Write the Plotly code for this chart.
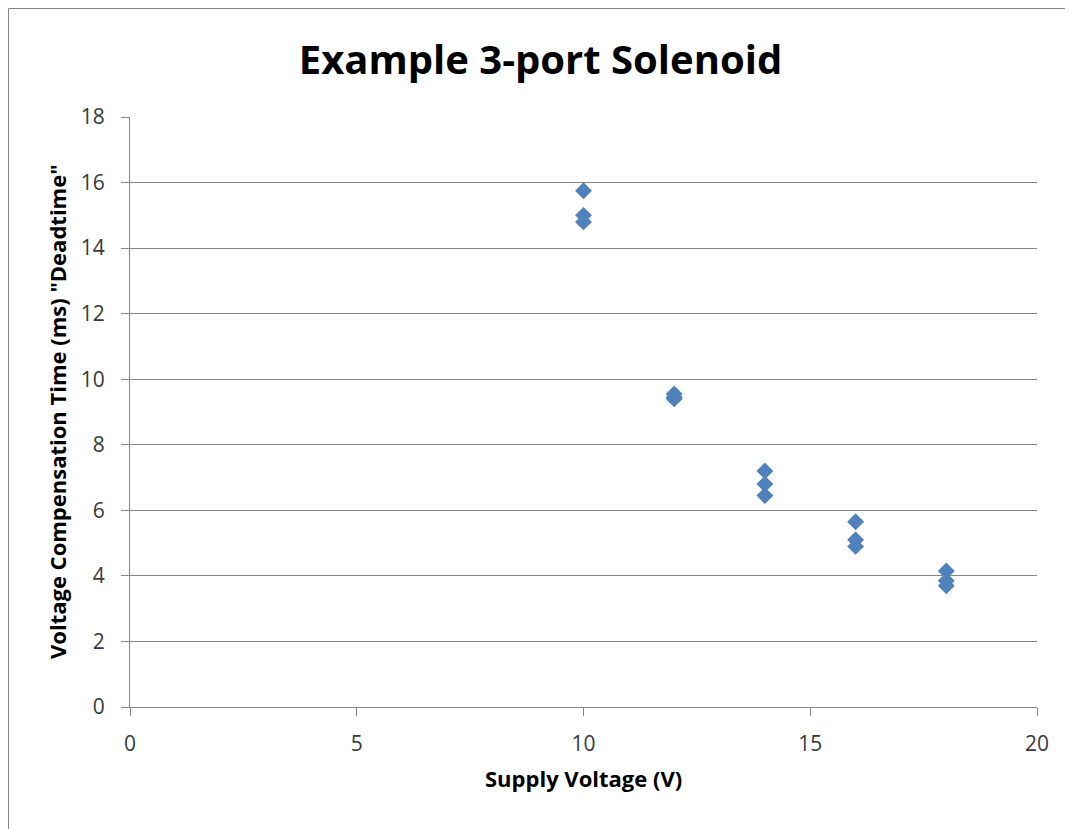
import plotly.graph_objects as go

supply_voltage = [10, 10, 10, 12, 12, 12, 14, 14, 14, 16, 16, 16, 18, 18, 18]
deadtime_ms = [15.75, 15.0, 14.8, 9.55, 9.45, 9.4, 7.2, 6.8, 6.45, 5.65, 5.1, 4.9, 4.15, 3.85, 3.7]

x_ticks = [0, 5, 10, 15, 20]
y_ticks = [0, 2, 4, 6, 8, 10, 12, 14, 16, 18]

FONT = "Open Sans, Liberation Sans, sans-serif"

# page is rendered with an 8px body margin, so figure coordinates = page - 8
W, H = 1065, 821
L, R, T, B = 122, 36, 109, 122
PW, PH = W - L - R, H - T - B


def px_x(fx):
    return (fx - L) / PW


def px_y(fy):
    return (H - B - fy) / PH


fig = go.Figure()
fig.add_trace(go.Scatter(
    x=supply_voltage, y=deadtime_ms, mode="markers",
    marker=dict(symbol="diamond", size=13, color="#4F81BD", line=dict(width=0)),
    showlegend=False,
))

fig.update_layout(
    width=W, height=H,
    paper_bgcolor="white", plot_bgcolor="white",
    margin=dict(l=L, r=R, t=T, b=B),
    title=dict(text="<b>Example 3-port Solenoid</b>", x=0.5, xanchor="center",
               y=1 - 52 / H, yanchor="middle",
               font=dict(family=FONT, size=40, color="black")),
    font=dict(family=FONT, size=21, color="#3a3a3a"),
    xaxis=dict(range=[0, 20], tickvals=x_ticks, showgrid=False, zeroline=False,
               showline=True, linecolor="#868686", linewidth=1,
               ticks="outside", ticklen=8, tickcolor="#868686",
               ticklabelstandoff=10),
    yaxis=dict(range=[0, 18], tickvals=y_ticks, showgrid=True, gridcolor="#868686", gridwidth=1,
               zeroline=False, showline=True, linecolor="#868686", linewidth=1,
               ticks="outside", ticklen=8, tickcolor="#868686",
               ticklabelstandoff=12),
    annotations=[
        dict(text="<b>Supply Voltage (V)</b>", xref="paper", yref="paper",
             x=0.5, y=px_y(770), xanchor="center", yanchor="middle", showarrow=False,
             font=dict(family=FONT, size=22, color="black")),
        dict(text='<b>Voltage Compensation Time (ms) "Deadtime"</b>', xref="paper", yref="paper",
             x=px_x(49), y=0.5, xanchor="center", yanchor="middle", textangle=-90, showarrow=False,
             font=dict(family=FONT, size=22, color="black")),
    ],
    shapes=[
        dict(type="line", xref="paper", yref="paper",
             x0=px_x(0.5), x1=px_x(0.5), y0=px_y(H + 5), y1=px_y(0.5),
             line=dict(color="#868686", width=1)),
        dict(type="line", xref="paper", yref="paper",
             x0=px_x(0.5), x1=px_x(W + 5), y0=px_y(0.5), y1=px_y(0.5),
             line=dict(color="#868686", width=1)),
    ],
)

fig.write_html("out.html")
